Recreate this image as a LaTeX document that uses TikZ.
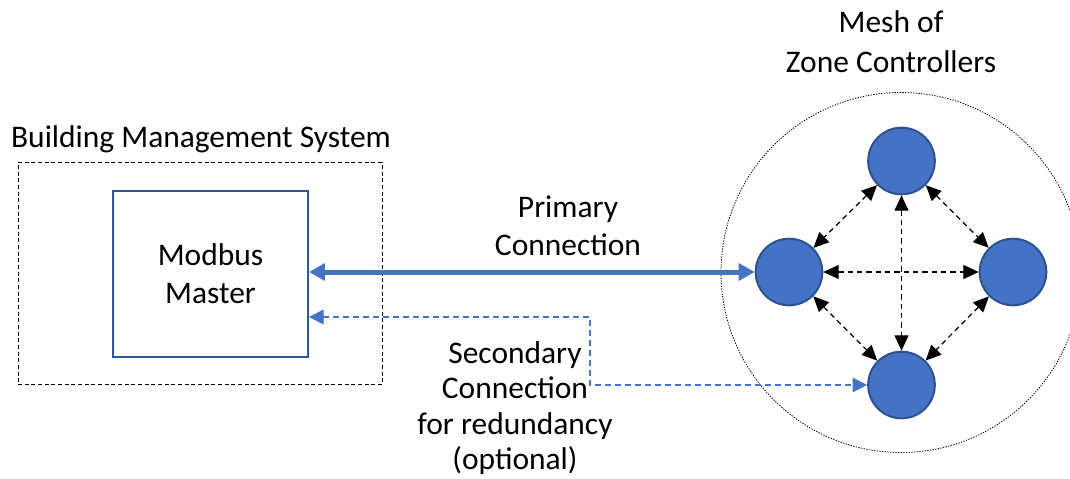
\documentclass[tikz,border=0pt]{standalone}
\usepackage{fontspec}
\setmainfont{Carlito}
\usetikzlibrary{arrows.meta,positioning}
\definecolor{zonefill}{RGB}{68,114,196}
\definecolor{zoneedge}{RGB}{47,82,143}
\definecolor{masteredge}{RGB}{47,85,151}
\begin{document}
\begin{tikzpicture}[x=0.75pt,y=0.75pt,yscale=-1,
  every node/.style={font=\fontsize{23.6}{28.5}\selectfont},
  textnode/.style={inner sep=0pt,align=center},
  bmsbox/.style={draw=black,line width=0.75pt,dash pattern={on 3pt off 2pt},minimum width=273pt,minimum height=167pt,inner sep=0pt},
  masterbox/.style={draw=masteredge,line width=1.6pt,minimum width=146pt,minimum height=124.5pt,align=center,inner sep=0pt},
  meshring/.style={circle,draw=black,line width=0.6pt,dash pattern={on 1pt off 1pt},minimum size=270pt,inner sep=0pt},
  zone/.style={circle,draw=zoneedge,fill=zonefill,line width=1.5pt,minimum size=50pt,inner sep=0pt},
  meshlink/.style={draw=black,line width=0.9pt,dash pattern={on 4pt off 3pt},{Triangle[length=11.5pt,width=10.5pt]}-{Triangle[length=11.5pt,width=10.5pt]}},
  primary/.style={draw=zonefill,line width=3.75pt,{Triangle[length=12pt,width=12.5pt]}-{Triangle[length=12pt,width=12.5pt]}},
  secondary/.style={draw=zonefill,line width=0.8pt,dash pattern={on 4.5pt off 3pt},{Triangle[length=11pt,width=11pt]}-{Triangle[length=11pt,width=11pt]}}]
\useasboundingbox (0,0) rectangle (1070,478);

%Shape: Rectangle
\node[bmsbox] (bms) at (200,273.5) {};
%Shape: Rectangle
\node[masterbox] (master) at (210.5,274) {Modbus\\Master};

%Shape: Circle
\node[meshring] (ring) at (901,272.5) {};
%Shape: Circle
\node[zone] (zt) at (901.5,161) {};
\node[zone] (zl) at (789,272) {};
\node[zone] (zr) at (1013,272) {};
\node[zone] (zb) at (901.5,385) {};

%Straight Lines
\draw[meshlink] (zt) -- (zl);
\draw[meshlink] (zt) -- (zr);
\draw[meshlink] (zl) -- (zb);
\draw[meshlink] (zr) -- (zb);
\draw[meshlink] (zt) -- (zb);
\draw[meshlink] (zl) -- (zr);

%Straight Lines
\draw[primary] (master.east |- zl.west) -- (zl.west);
%Straight Lines
\coordinate (sbend) at (590,317);
\draw[secondary] (master.east |- sbend) -- (sbend) |- (zb.west);

% Text Node
\node[textnode] (bmslabel) at (201,139) {Building Management System};
% Text Node
\node[textnode,font=\fontsize{23.6}{30}\selectfont] (meshlabel) at (891,42) {Mesh of\\Zone Controllers};
% Text Node
\node[textnode] (primlabel) at (568,226) {Primary\\Connection};
% Text Node
\node[textnode,font=\fontsize{23.6}{26.6}\selectfont] (seclabel) at (515,408) {Secondary\\Connection\\for redundancy\\(optional)};

\end{tikzpicture}
\end{document}
